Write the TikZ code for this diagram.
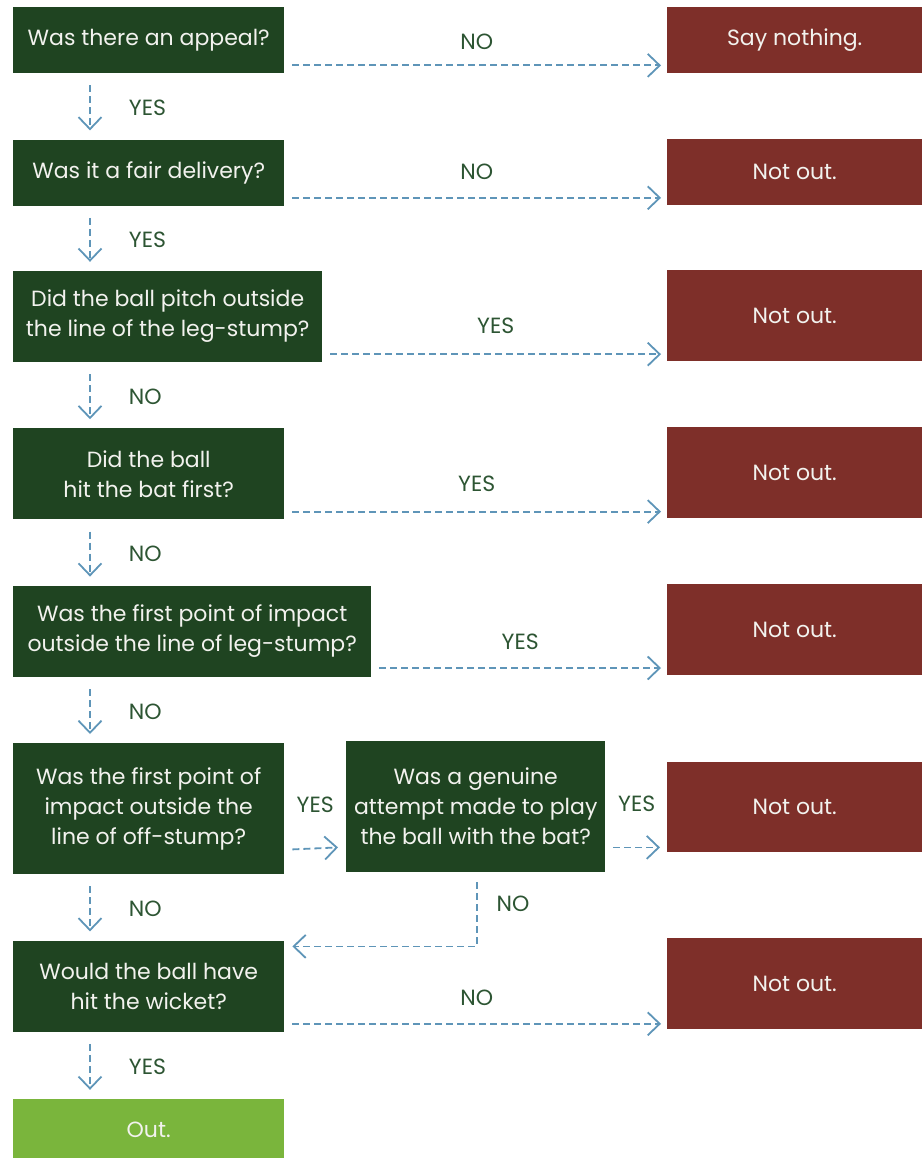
\documentclass[tikz,border=0pt]{standalone}
\usepackage{fontspec}
\setmainfont{Poppins}
\usepackage{tikz}
\usetikzlibrary{positioning,arrows.meta,calc}
\definecolor{lbwgreen}{HTML}{1F4421}
\definecolor{lbwred}{HTML}{7E2F29}
\definecolor{lbwout}{HTML}{7AB53C}
\definecolor{lbwflow}{HTML}{5E95B8}
\definecolor{lbwlabel}{HTML}{2D5533}
\definecolor{lbwtext}{HTML}{F2F2EE}

\begin{document}
\begin{tikzpicture}[
  x=1pt,y=-1pt,
  font=\fontsize{22}{30}\selectfont,
  quest/.style={fill=lbwgreen,text=lbwtext,align=center,anchor=north west,
                inner sep=0pt,minimum width=271pt,minimum height=91pt},
  verdict/.style={fill=lbwred,text=lbwtext,align=center,anchor=north west,
                  inner sep=0pt,minimum width=255pt,minimum height=91pt},
  outbox/.style={fill=lbwout,text=lbwtext,align=center,anchor=north west,
                 inner sep=0pt,minimum width=271pt,minimum height=62pt},
  lbl/.style={text=lbwlabel,inner sep=0pt},
  arr/.style={-{Straight Barb[length=12pt,width=23pt]},lbwflow,line width=1.8pt,
              dash pattern=on 7pt off 4pt}
]
\useasboundingbox (0,0) rectangle (922,1158);

% column 1: the questions, top to bottom
\node[quest,minimum height=66pt] (q1) at (13,7) {Was there an appeal?};
\node[quest,minimum height=66pt,below=66pt of q1.south west,anchor=north west] (q2)
  {Was it a fair delivery?};
\node[quest,minimum width=309pt,below=65pt of q2.south west,anchor=north west] (q3)
  {Did the ball pitch outside\\ the line of the leg-stump?};
\node[quest,below=66pt of q3.south west,anchor=north west] (q4)
  {Did the ball\\ hit the bat first?};
\node[quest,minimum width=358pt,below=66pt of q4.south west,anchor=north west] (q5)
  {Was the first point of impact\\ outside the line of leg-stump?};
\node[quest,minimum height=131pt,below=66pt of q5.south west,anchor=north west] (q6)
  {Was the first point of\\ impact outside the\\ line of off-stump?};
\node[quest,below=66pt of q6.south west,anchor=north west] (q8)
  {Would the ball have\\ hit the wicket?};
\node[outbox,below=67pt of q8.south west,anchor=north west] (out) {Out.};

% column 2: the extra question on the off side
\node[quest,minimum width=259pt,minimum height=131pt] (q7) at (346,741)
  {Was a genuine\\ attempt made to play\\ the ball with the bat?};

% column 3: the verdicts
\node[verdict,minimum height=66pt] (r1) at (667,7) {Say nothing.};
\node[verdict,minimum height=66pt] (r2) at (667,139) {Not out.};
\node[verdict] (r3) at (667,270) {Not out.};
\node[verdict] (r4) at (667,427) {Not out.};
\node[verdict] (r5) at (667,584) {Not out.};
\node[verdict,minimum height=90pt] (r6) at (667,762) {Not out.};
\node[verdict] (r7) at (667,938) {Not out.};

% down the left column
\draw[arr] ($(q1.south west)+(77,12)$) -- ($(q2.north west)+(77,-9)$)
  node[lbl,midway,right=38pt] {YES};
\draw[arr] ($(q2.south west)+(77,12)$) -- ($(q3.north west)+(77,-9)$)
  node[lbl,midway,right=38pt] {YES};
\draw[arr] ($(q3.south west)+(77,12)$) -- ($(q4.north west)+(77,-9)$)
  node[lbl,midway,right=38pt] {NO};
\draw[arr] ($(q4.south west)+(77,12)$) -- ($(q5.north west)+(77,-9)$)
  node[lbl,midway,right=38pt] {NO};
\draw[arr] ($(q5.south west)+(77,12)$) -- ($(q6.north west)+(77,-9)$)
  node[lbl,midway,right=38pt] {NO};
\draw[arr] ($(q6.south west)+(77,12)$) -- ($(q8.north west)+(77,-9)$)
  node[lbl,midway,right=38pt] {NO};
\draw[arr] ($(q8.south west)+(77,12)$) -- ($(out.north west)+(77,-9)$)
  node[lbl,midway,right=38pt] {YES};

% across to the verdicts
\draw[arr] ($(q1.south east)+(8,-8)$) -- ($(q1.south east -| r1.west)+(-6,-8)$)
  node[lbl,midway,yshift=24pt] {NO};
\draw[arr] ($(q2.south east)+(8,-8)$) -- ($(q2.south east -| r2.west)+(-6,-8)$)
  node[lbl,midway,yshift=26pt] {NO};
\draw[arr] ($(q3.south east)+(8,-8)$) -- ($(q3.south east -| r3.west)+(-6,-8)$)
  node[lbl,midway,yshift=28pt] {YES};
\draw[arr] ($(q4.south east)+(8,-8)$) -- ($(q4.south east -| r4.west)+(-6,-8)$)
  node[lbl,midway,yshift=28pt] {YES};
\draw[arr] ($(q5.south east)+(8,-9)$) -- ($(q5.south east -| r5.west)+(-6,-9)$)
  node[lbl,midway,yshift=26pt] {YES};
\draw[arr] ($(q8.south east)+(8,-8)$) -- ($(q8.south east -| r7.west)+(-6,-8)$)
  node[lbl,midway,yshift=26pt] {NO};

% the off-stump branch
\draw[arr] ($(q6.south east)+(8,-25)$) -- ($(q7.south west)+(-8,-25)$)
  node[lbl,midway,yshift=44pt] {YES};
\draw[arr] ($(q7.south east)+(8,-25)$) -- ($(q7.south east -| r6.west)+(-7,-25)$)
  node[lbl,midway,yshift=44pt] {YES};
\draw[arr] ($(q7.south)+(1,10)$) |- ($(q8.north east)+(8,6)$)
  node[lbl,pos=0.17,right=19pt] {NO};
\end{tikzpicture}
\end{document}
